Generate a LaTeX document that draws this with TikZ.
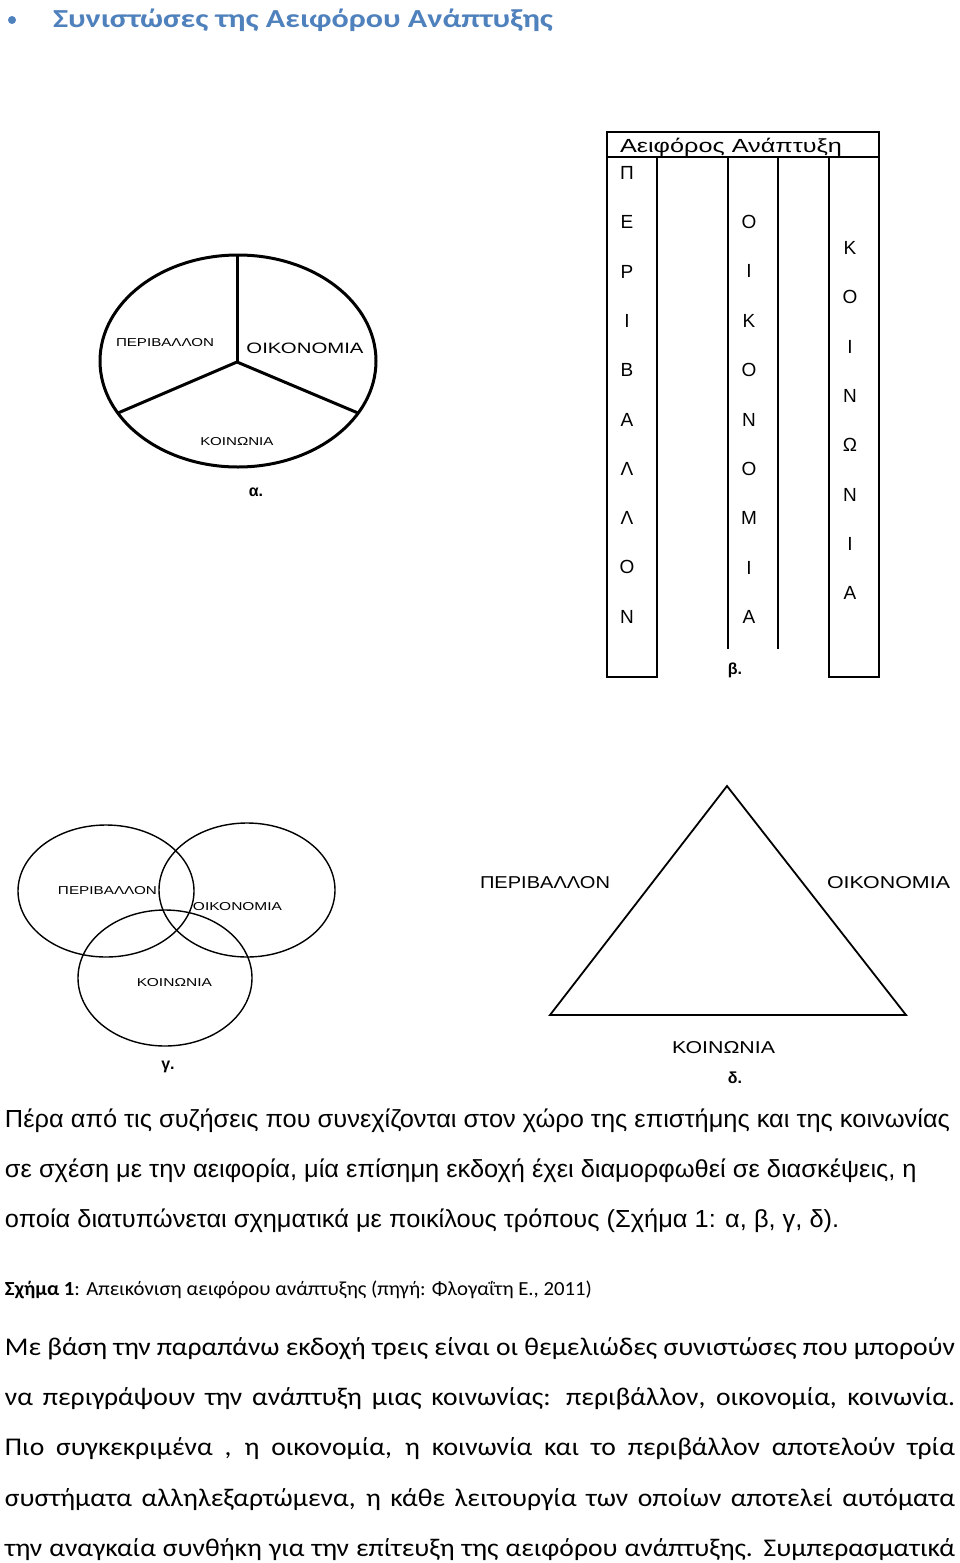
\documentclass[tikz,border=0pt]{standalone}
\usepackage{fontspec}
\usepackage{graphicx}
\setmainfont{Carlito}
\newfontfamily\arialf{Liberation Sans}
\newfontfamily\calf{Carlito}
\definecolor{ttl}{RGB}{79,129,189}
\newlength\refA
\newlength\refB
\newcommand\lbl[3]{\resizebox{#1pt}{#2pt}{\arialf #3}}
\newcommand\pa[1]{\scalebox{\sxa}[1]{\arialf\fontsize{24.7}{30}\selectfont #1}}
\newcommand\jl[1]{\scalebox{\sxb}[1]{\makebox[\refB][s]{\calf\fontsize{25.5}{30}\selectfont #1}}}
\tikzset{
  txt/.style={inner sep=0pt, outer sep=0pt},
  pie/.style={line width=3pt},
  tbl/.style={line width=2.4pt},
  venn/.style={line width=1.4pt},
  tri/.style={line width=1.8pt, line join=miter},
  figlbl/.style={inner sep=0pt, font=\arialf\bfseries\fontsize{16}{18}\selectfont},
  letter/.style={inner sep=0pt, font=\arialf\fontsize{19}{22}\selectfont}
}
\begin{document}
\settowidth\refA{\arialf\fontsize{24.7}{30}\selectfont Πέρα από τις συζήσεις που συνεχίζονται στον χώρο της επιστήμης και της κοινωνίας}%
\pgfmathsetmacro\sxa{945/\refA}%
\settowidth\refB{\calf\fontsize{25.5}{30}\selectfont Με βάση την παραπάνω εκδοχή τρεις είναι οι θεμελιώδες συνιστώσες που μπορούν}%
\pgfmathsetmacro\sxb{950/\refB}%
\begin{tikzpicture}[x=1pt,y=-1pt]
\fill[white] (0,0) rectangle (960,1563);
\useasboundingbox (0,0) rectangle (960,1563);

% title
\node[circle, fill=ttl, inner sep=0pt, minimum size=8pt] (bullet) at (12,20) {};
\node[txt, anchor=base west, text=ttl] (title) at (53,28)
  {\resizebox{500pt}{\height}{\calf\bfseries\fontsize{26}{30}\selectfont Συνιστώσες της Αειφόρου Ανάπτυξης}};

% figure alpha
\draw[pie] (238,361) ellipse [x radius=138pt, y radius=106pt];
\coordinate (ac) at (237,362);
\coordinate (atop) at (237,255);
\coordinate (al) at (118,413);
\coordinate (ar) at (358,413);
\draw[pie] (ac) -- (atop);
\draw[pie] (ac) -- (al);
\draw[pie] (ac) -- (ar);
\node[txt] (aper) at (165,343) {\lbl{98}{8}{ΠΕΡΙΒΑΛΛΟΝ}};
\node[txt] (aoik) at (305,348) {\lbl{117}{10.5}{ΟΙΚΟΝΟΜΙΑ}};
\node[txt] (akoi) at (237,442) {\lbl{73}{8}{ΚΟΙΝΩΝΙΑ}};
\node[figlbl] (alab) at (256,492) {α.};

% figure beta
\draw[tbl] (607,132) rectangle (879,157);
\draw[tbl] (607,157) -- (607,677) -- (657,677) -- (657,157);
\draw[tbl] (728,157) -- (728,649);
\draw[tbl] (778,157) -- (778,649);
\draw[tbl] (829,157) -- (829,677) -- (879,677) -- (879,157);
\node[txt, anchor=base west] (bhead) at (620,152)
  {\resizebox{222pt}{\height}{\arialf\fontsize{19}{22}\selectfont Αειφόρος Ανάπτυξη}};
\foreach \c [count=\i from 0] in {Π,Ε,Ρ,Ι,Β,Α,Λ,Λ,Ο,Ν}
  \node[letter] (bp\i) at (627,173+49.3*\i) {\c};
\foreach \c [count=\i from 0] in {Ο,Ι,Κ,Ο,Ν,Ο,Μ,Ι,Α}
  \node[letter] (bo\i) at (749,222+49.4*\i) {\c};
\foreach \c [count=\i from 0] in {Κ,Ο,Ι,Ν,Ω,Ν,Ι,Α}
  \node[letter] (bk\i) at (850,248+49.3*\i) {\c};
\node[figlbl] (blab) at (735,670) {β.};

% figure gamma
\draw[venn] (106,891) ellipse [x radius=88pt, y radius=66pt];
\draw[venn] (247,890) ellipse [x radius=88pt, y radius=67pt];
\draw[venn] (165,978) ellipse [x radius=87pt, y radius=68pt];
\node[txt] (gper) at (107.5,891) {\lbl{99}{8}{ΠΕΡΙΒΑΛΛΟΝ}};
\node[txt] (goik) at (237.5,907) {\lbl{89}{8}{ΟΙΚΟΝΟΜΙΑ}};
\node[txt] (gkoi) at (174.5,983) {\lbl{75}{8}{ΚΟΙΝΩΝΙΑ}};
\node[figlbl] (glab) at (168,1067) {γ.};

% figure delta
\coordinate (dtop) at (727,786);
\coordinate (dl) at (550,1015);
\coordinate (dr) at (906,1015);
\draw[tri] (dtop) -- (dr) -- (dl) -- cycle;
\node[txt] (dper) at (545,883) {\lbl{130}{12}{ΠΕΡΙΒΑΛΛΟΝ}};
\node[txt] (doik) at (888.5,883) {\lbl{123}{12}{ΟΙΚΟΝΟΜΙΑ}};
\node[txt] (dkoi) at (723.5,1048) {\lbl{103}{12}{ΚΟΙΝΩΝΙΑ}};
\node[figlbl] (dlab) at (735,1078) {δ.};

% paragraph 1
\node[txt, anchor=base west] (p1) at (5,1127) {\pa{Πέρα από τις συζήσεις που συνεχίζονται στον χώρο της επιστήμης και της κοινωνίας}};
\node[txt, anchor=base west] (p2) at (5,1177) {\pa{σε σχέση με την αειφορία, μία επίσημη εκδοχή έχει διαμορφωθεί σε διασκέψεις, η}};
\node[txt, anchor=base west] (p3) at (5,1227) {\pa{οποία διατυπώνεται σχηματικά με ποικίλους τρόπους (Σχήμα 1: α, β, γ, δ).}};

% caption
\node[txt, anchor=base west] (cap) at (5,1295)
  {\resizebox{587pt}{\height}{\calf\fontsize{20}{24}\selectfont\textbf{Σχήμα 1}: Απεικόνιση αειφόρου ανάπτυξης (πηγή: Φλογαΐτη Ε., 2011)}};

% paragraph 2
\node[txt, anchor=base west] (q1) at (5,1355) {\jl{Με βάση την παραπάνω εκδοχή τρεις είναι οι θεμελιώδες συνιστώσες που μπορούν}};
\node[txt, anchor=base west] (q2) at (5,1405) {\jl{να περιγράψουν την ανάπτυξη μιας κοινωνίας: περιβάλλον, οικονομία, κοινωνία.}};
\node[txt, anchor=base west] (q3) at (5,1455) {\jl{Πιο συγκεκριμένα , η οικονομία, η κοινωνία και το περιβάλλον αποτελούν τρία}};
\node[txt, anchor=base west] (q4) at (5,1506) {\jl{συστήματα αλληλεξαρτώμενα, η κάθε λειτουργία των οποίων αποτελεί αυτόματα}};
\node[txt, anchor=base west] (q5) at (5,1556) {\jl{την αναγκαία συνθήκη για την επίτευξη της αειφόρου ανάπτυξης. Συμπερασματικά}};
\end{tikzpicture}
\end{document}
